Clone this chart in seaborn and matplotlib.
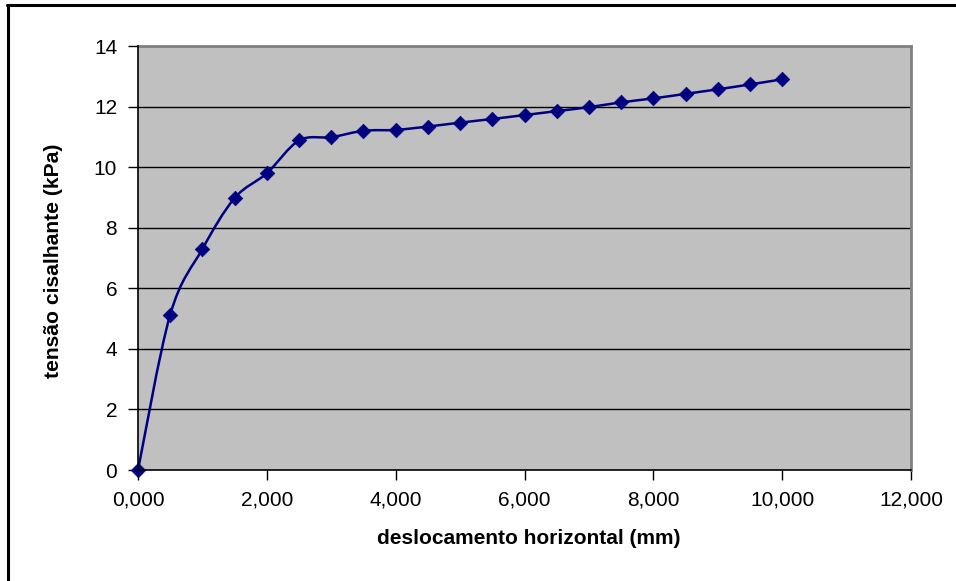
import numpy as np
import pandas as pd
import seaborn as sns
import matplotlib
matplotlib.use("Agg")
import matplotlib.pyplot as plt
from matplotlib.path import Path
from matplotlib.patches import PathPatch
from matplotlib.lines import Line2D
from matplotlib.ticker import FixedLocator, FixedFormatter

# data
deslocamento = [0.0, 0.5, 1.0, 1.5, 2.0, 2.5, 3.0, 3.5, 4.0, 4.5, 5.0,
                5.5, 6.0, 6.5, 7.0, 7.5, 8.0, 8.5, 9.0, 9.5, 10.0]
tensao = [0.0, 5.13, 7.30, 8.98, 9.80, 10.88, 10.99, 11.20, 11.23, 11.34, 11.47,
          11.59, 11.72, 11.85, 11.98, 12.14, 12.27, 12.42, 12.57, 12.73, 12.90]
x_ticks = [0, 2, 4, 6, 8, 10, 12]
x_tick_labels = ["0,000", "2,000", "4,000", "6,000", "8,000", "10,000", "12,000"]
y_ticks = [0, 2, 4, 6, 8, 10, 12, 14]
y_tick_labels = ["0", "2", "4", "6", "8", "10", "12", "14"]
x_label = "deslocamento horizontal (mm)"
y_label = "tensão cisalhante (kPa)"

df = pd.DataFrame({"x": deslocamento, "y": tensao})

sns.set_style("white")
plt.rcParams["font.family"] = ["Liberation Sans", "DejaVu Sans"]
plt.rcParams["text.color"] = "black"
plt.rcParams["axes.labelcolor"] = "black"

W, H = 956, 581
fig = plt.figure(figsize=(W / 100, H / 100), dpi=100)
L, R, T, B = 138, 911, 46, 470
ax = fig.add_axes([L / W, 1 - B / H, (R - L) / W, (B - T) / H])
ax.set_facecolor("#C0C0C0")

navy = "#000080"

# smooth (Excel-like) line through the points using cubic Bezier segments
pts = df[["x", "y"]].to_numpy()
n = len(pts)
verts = [tuple(pts[0])]
codes = [Path.MOVETO]
for i in range(n - 1):
    p0 = pts[i - 1] if i > 0 else pts[i]
    p1 = pts[i]
    p2 = pts[i + 1]
    p3 = pts[i + 2] if i + 2 < n else pts[i + 1]
    c1 = p1 + (p2 - p0) / 6.0
    c2 = p2 - (p3 - p1) / 6.0
    verts += [tuple(c1), tuple(c2), tuple(p2)]
    codes += [Path.CURVE4] * 3
ax.add_patch(PathPatch(Path(verts, codes), fill=False, edgecolor=navy,
                       linewidth=1.8, zorder=3, clip_on=False))

sns.scatterplot(data=df, x="x", y="y", ax=ax, marker="D", s=55,
                color=navy, edgecolor=navy, linewidth=0.5, zorder=4,
                clip_on=False, legend=False)

ax.set_xlim(0, 12)
ax.set_ylim(0, 14)
ax.xaxis.set_major_locator(FixedLocator(x_ticks))
ax.xaxis.set_major_formatter(FixedFormatter(x_tick_labels))
ax.yaxis.set_major_locator(FixedLocator(y_ticks))
ax.yaxis.set_major_formatter(FixedFormatter(y_tick_labels))

for yv in y_ticks[1:-1]:
    ax.axhline(yv, color="black", linewidth=1.0, zorder=1)

ax.tick_params(axis="both", which="major", direction="out", length=7,
               width=1, color="black", labelsize=15, labelcolor="black",
               bottom=True, left=True)
ax.tick_params(axis="x", pad=8)
ax.tick_params(axis="y", pad=8)

for side in ["top", "right"]:
    ax.spines[side].set_color("#808080")
    ax.spines[side].set_linewidth(2.0)
for side in ["left", "bottom"]:
    ax.spines[side].set_color("black")
    ax.spines[side].set_linewidth(1.2)
    ax.spines[side].set_zorder(5)

ax.set_xlabel(x_label, fontsize=15, fontweight="bold", labelpad=14, color="black")
ax.set_ylabel(y_label, fontsize=15.2, fontweight="bold", labelpad=22, color="black")
ax.xaxis.label.set_x((529 - L) / (R - L))
ax.yaxis.label.set_y((B - 260.5) / (B - T))

# outer chart frame (left and top edges visible)
fig.add_artist(Line2D([7.5 / W, 7.5 / W], [0, 1 - 5 / H], transform=fig.transFigure,
                      color="black", linewidth=2.2))
fig.add_artist(Line2D([6.5 / W, 1], [1 - 5 / H, 1 - 5 / H], transform=fig.transFigure,
                      color="black", linewidth=2.2))

fig.savefig("out.png", dpi=100, facecolor="white")
